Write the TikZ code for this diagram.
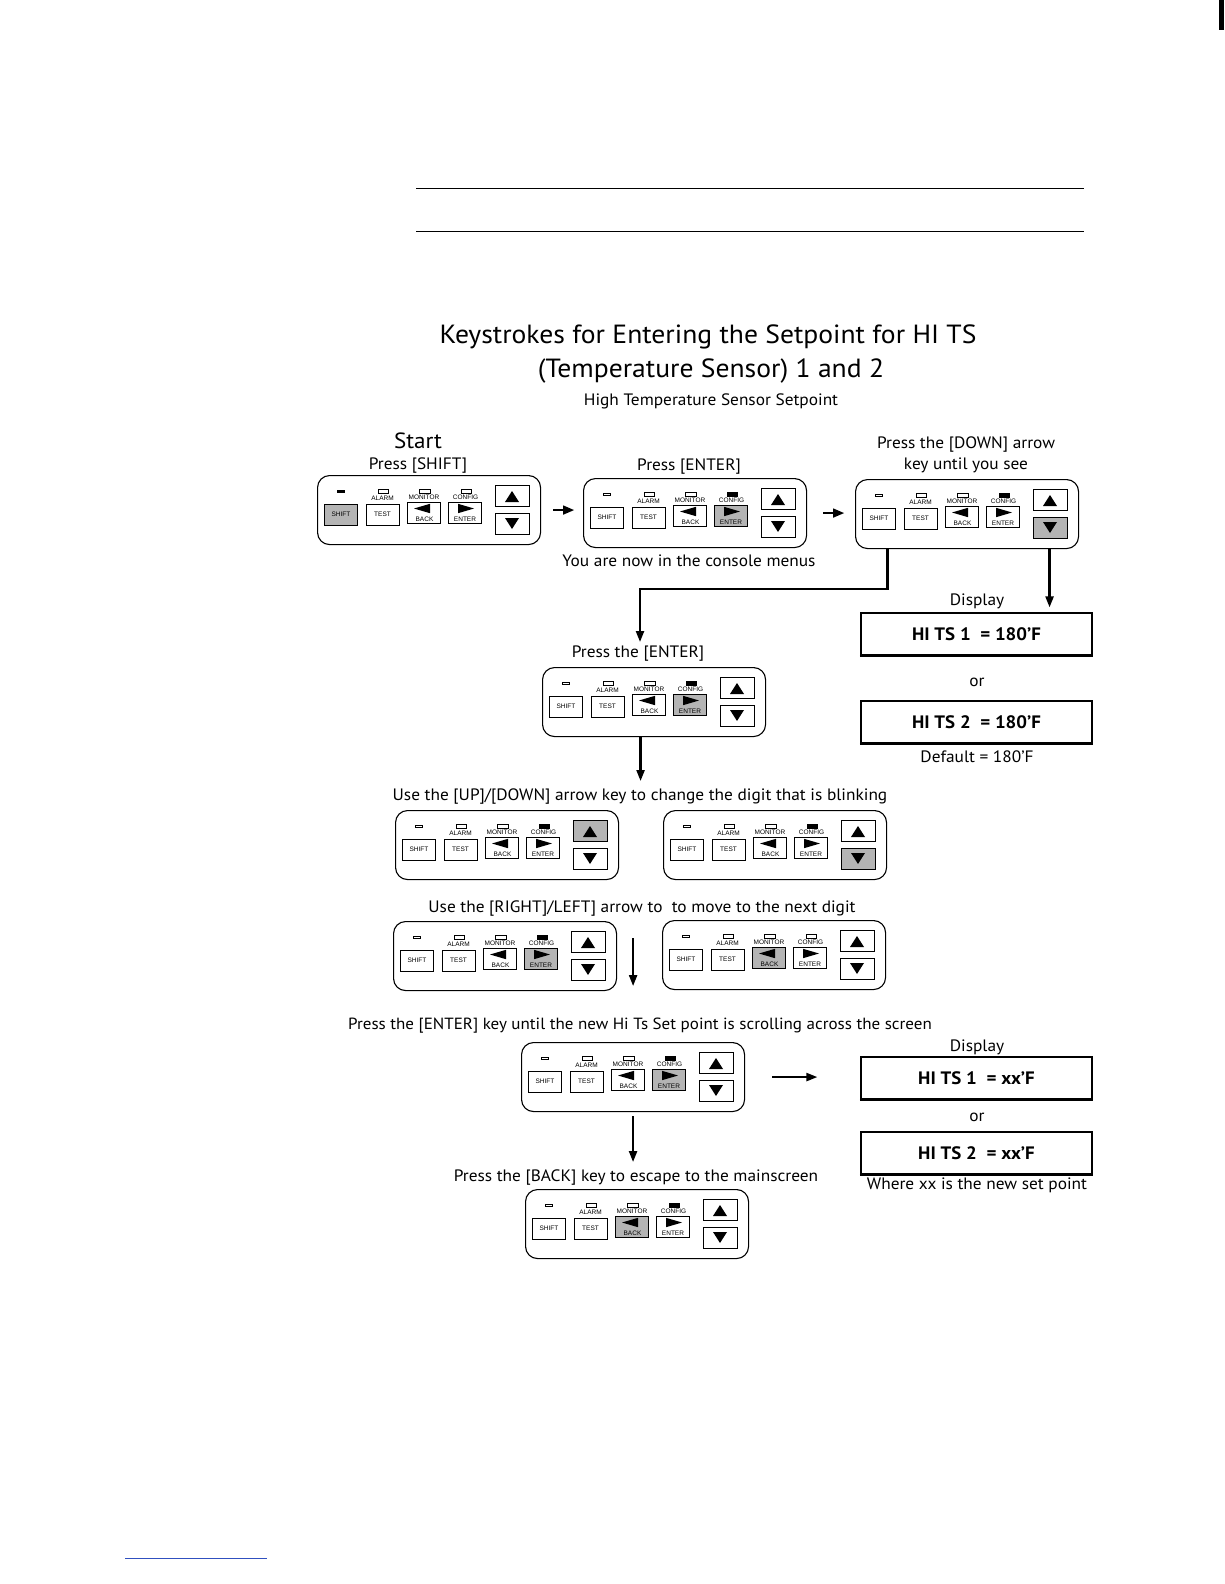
\documentclass[tikz,border=0pt]{standalone}
\usepackage{fontspec}
\setmainfont{PT Sans}[FakeStretch=1.05]
\newfontfamily\keyfont{Liberation Sans}
\usetikzlibrary{arrows.meta}
\definecolor{kgray}{HTML}{B4B4B4}
\definecolor{linkblue}{HTML}{3050C0}
\tikzset{
  padbox/.style={draw, line width=1.1pt, rounded corners=12pt, minimum width=223pt, minimum height=69pt, anchor=north west, inner sep=0pt},
  keyb/.style={draw, line width=0.8pt, minimum width=33pt, minimum height=21pt, inner sep=0pt, font=\keyfont\fontsize{6.5}{7}\selectfont},
  arrkey/.style={draw, line width=0.9pt, minimum width=34pt, minimum height=21pt, inner sep=0pt},
  led/.style={draw, line width=0.5pt, fill=white},
  klbl/.style={inner sep=0pt, font=\keyfont\fontsize{6.5}{7}\selectfont},
  kS/.style={fill=white}, kT/.style={fill=white}, kB/.style={fill=white},
  kE/.style={fill=white}, kU/.style={fill=white}, kD/.style={fill=white},
  ledS/.style={}, ledC/.style={},
  txt/.style={inner sep=0pt, font=\fontsize{16.5}{19}\selectfont},
  ttl/.style={inner sep=0pt, font=\fontsize{26.3}{30}\selectfont},
  dispbox/.style={draw, line width=1.2pt, minimum width=231pt, minimum height=42pt, inner sep=0pt, font=\bfseries\fontsize{18}{20}\selectfont},
  flow/.style={line width=2.2pt, -{Triangle[length=11pt,width=8pt]}},
  small/.style={line width=1.4pt, -{Triangle[length=11pt,width=9pt]}},
}
\newcommand\kpad[4]{%
  \node[padbox] (#1) at (#2,#3) {};
  \begin{scope}[shift={(#2,#3)},#4]
    \draw[led,ledS] (20,15) rectangle (27.5,17.5);
    \draw[led] (61,14.5) rectangle (71,18);
    \draw[led] (102,14.5) rectangle (113,18);
    \draw[led,ledC] (144,14.5) rectangle (154,18);
    \node[klbl] (#1-al) at (65.5,23) {ALARM};
    \node[klbl] (#1-mo) at (107,22) {MONITOR};
    \node[klbl] (#1-co) at (148.5,22) {CONFIG};
    \node[keyb,kS] (#1-s) at (24,39.5) {SHIFT};
    \node[keyb,kT] (#1-t) at (65.5,39.5) {TEST};
    \node[keyb,kB] (#1-b) at (107,38) {};
    \node[keyb,kE] (#1-e) at (148,38) {};
    \fill (97,33.5) -- (113,28.8) -- (113,38.2) -- cycle;
    \fill (157,33.5) -- (141,28.8) -- (141,38.2) -- cycle;
    \node[klbl] (#1-bl) at (107.5,44.3) {BACK};
    \node[klbl] (#1-el) at (148,44.3) {ENTER};
    \node[arrkey,kU] (#1-u) at (195,21) {};
    \node[arrkey,kD] (#1-d) at (195,48.5) {};
    \fill (195,16) -- (188,27) -- (202,27) -- cycle;
    \fill (195,54) -- (188,43) -- (202,43) -- cycle;
  \end{scope}}
\newcommand\dispbottom[1]{\draw[line width=2pt] ([xshift=-0.6pt]#1.south west) -- ([xshift=0.6pt]#1.south east);}
\begin{document}
\begin{tikzpicture}[x=1pt,y=-1pt]
\useasboundingbox (0,0) rectangle (1224,1584);
\fill (1219,0) rectangle (1224,30);
\draw[line width=0.9pt] (416,188) -- (1084,188);
\draw[line width=0.9pt] (416,231) -- (1084,231);
\draw[linkblue, line width=0.6pt] (125,1558) -- (267,1558);

\node[ttl] (t1) at (708,337) {Keystrokes for Entering the Setpoint for HI TS};
\node[ttl] (t2) at (711,371) {(Temperature Sensor) 1 and 2};
\node[txt] (t3) at (711,401) {High Temperature Sensor Setpoint};

\node[inner sep=0pt, font=\fontsize{22}{24}\selectfont] (start) at (418,441) {Start};
\node[txt] (l1) at (418,466) {Press [SHIFT]};
\node[txt] (l2) at (689,467) {Press [ENTER]};
\node[txt, align=center, font=\fontsize{16.5}{21}\selectfont] (l3) at (966,455) {Press the [DOWN] arrow\\key until you see};
\node[txt] (l2b) at (689,561) {You are now in the console menus};

\kpad{k1}{317}{475}{kS/.style={fill=kgray}, ledS/.style={fill=black}}
\kpad{k2}{583}{478}{kE/.style={fill=kgray}, ledC/.style={fill=black}}
\kpad{k3}{855}{479}{kD/.style={fill=kgray}, ledC/.style={fill=black}}

\draw[small] ([xshift=12pt]k1.east) -- +(21,0);
\draw[small] ([xshift=16pt]k2.east) -- +(21,0);

\node[txt] (dl1) at (977,601) {Display};
\node[dispbox] (d1) at (976.5,634) {HI TS 1~~= 180’F};
\node[txt] (or1) at (977,682) {or};
\node[dispbox] (d2) at (976.5,722) {HI TS 2~~= 180’F};
\node[txt] (def) at (977,757) {Default = 180’F};
\dispbottom{d1}\dispbottom{d2}

\coordinate (c1) at (640,589);
\coordinate (c2) at (640,642);
\draw[flow] ([xshift=-79.5pt]k3.south) |- (c1) -- (c2);
\draw[flow] ([xshift=82.5pt]k3.south) -- ([xshift=82.5pt,yshift=5pt]k3.south |- d1.north);

\node[txt] (l4) at (638,654) {Press the [ENTER]};
\kpad{k4}{542}{667}{kE/.style={fill=kgray}, ledC/.style={fill=black}}

\node[txt] (l5) at (640,797) {Use the [UP]/[DOWN] arrow key to change the digit that is blinking};
\draw[flow] ([xshift=-13.5pt]k4.south) -- ([xshift=-13.5pt,yshift=8pt]k4.south |- l5.north);

\kpad{k5}{395}{810}{kU/.style={fill=kgray}, ledC/.style={fill=black}}
\kpad{k6}{663}{810}{kD/.style={fill=kgray}, ledC/.style={fill=black}}

\node[txt] (l6) at (642,909) {Use the [RIGHT]/LEFT] arrow to~ to move to the next digit};
\kpad{k7}{393}{921}{kE/.style={fill=kgray}, ledC/.style={fill=black}}
\kpad{k8}{662}{920}{kB/.style={fill=kgray}}
\draw[flow] ([xshift=16pt,yshift=18pt]k7.east) -- +(0,48);

\node[txt, font=\fontsize{16.2}{19}\selectfont] (l7) at (640,1026) {Press the [ENTER] key until the new Hi Ts Set point is scrolling across the screen};
\kpad{k9}{521}{1042}{kE/.style={fill=kgray}, ledC/.style={fill=black}}

\node[txt] (dl2) at (977,1047) {Display};
\node[dispbox] (d3) at (976.5,1078) {HI TS 1~~= xx’F};
\node[txt] (or2) at (977,1117) {or};
\node[dispbox] (d4) at (976.5,1153) {HI TS 2~~= xx’F};
\node[txt] (wh) at (977,1185) {Where xx is the new set point};
\dispbottom{d3}\dispbottom{d4}
\draw[flow] ([xshift=27pt]k9.east) -- ([xshift=-43pt]k9.east -| d3.west);

\node[txt] (l8) at (636,1178) {Press the [BACK] key to escape to the mainscreen};
\draw[flow] ([yshift=-4pt]k9.south) -- ([yshift=8pt]k9.south |- l8.north);
\kpad{k10}{525}{1189}{kB/.style={fill=kgray}, ledC/.style={fill=black}}
\end{tikzpicture}
\end{document}
